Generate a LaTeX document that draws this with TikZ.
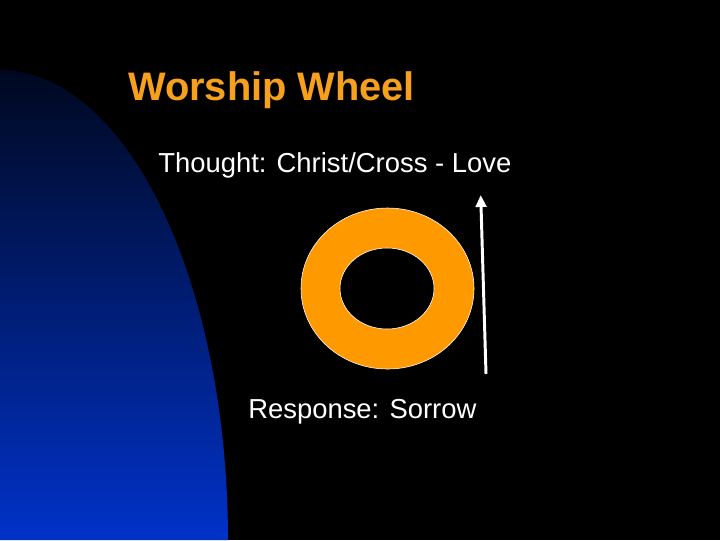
\documentclass[tikz,border=0pt]{standalone}
\usepackage{fontspec}
\setmainfont{Liberation Sans}
\usetikzlibrary{arrows.meta}

\definecolor{wheelorange}{RGB}{255,153,0}
\definecolor{titleorange}{RGB}{247,160,30}
\definecolor{deepnavy}{RGB}{0,8,32}
\definecolor{midblue}{RGB}{0,36,150}
\definecolor{lowblue}{RGB}{0,50,200}

\begin{document}
\begin{tikzpicture}[x=0.025cm,y=-0.025cm]

	\tikzstyle{title}=[anchor=base west,inner sep=0pt,text=titleorange,font=\fontsize{28.3}{32}\selectfont\bfseries]
	\tikzstyle{line}=[anchor=base west,inner sep=0pt,text=white,font=\fontsize{19.5}{23}\selectfont]
	\tikzstyle{myarrow}=[white,line width=2.1pt,-{Triangle[width=7.5pt,length=8.5pt]}]

	% background and the blue quarter on the left
	\fill[black] (0,0) rectangle (720,540);
	\shade[top color=deepnavy,middle color=midblue,bottom color=lowblue]
		plot[domain=0:90,samples=80] ({228*cos(\x)},{540-470*sin(\x)}) -- (0,540) -- cycle;

	\node[title] (head) at (128,100) {Worship Wheel};
	\node[line] (thought) at (158,172) {Thought: Christ/Cross - Love};
	\node[line] (response) at (248,418) {Response: Sorrow};

	% the wheel
	\fill[wheelorange,even odd rule,draw=white,line width=0.4pt]
		(387.5,288.5) ellipse [x radius=86.5,y radius=80.5]
		(387,288.5) ellipse [x radius=47,y radius=40.5];
%
	\coordinate (foot) at (486,374);
	\coordinate (tip) at (480.7,195);
	\draw[myarrow] (foot) -- (tip);
\end{tikzpicture}
\end{document}
